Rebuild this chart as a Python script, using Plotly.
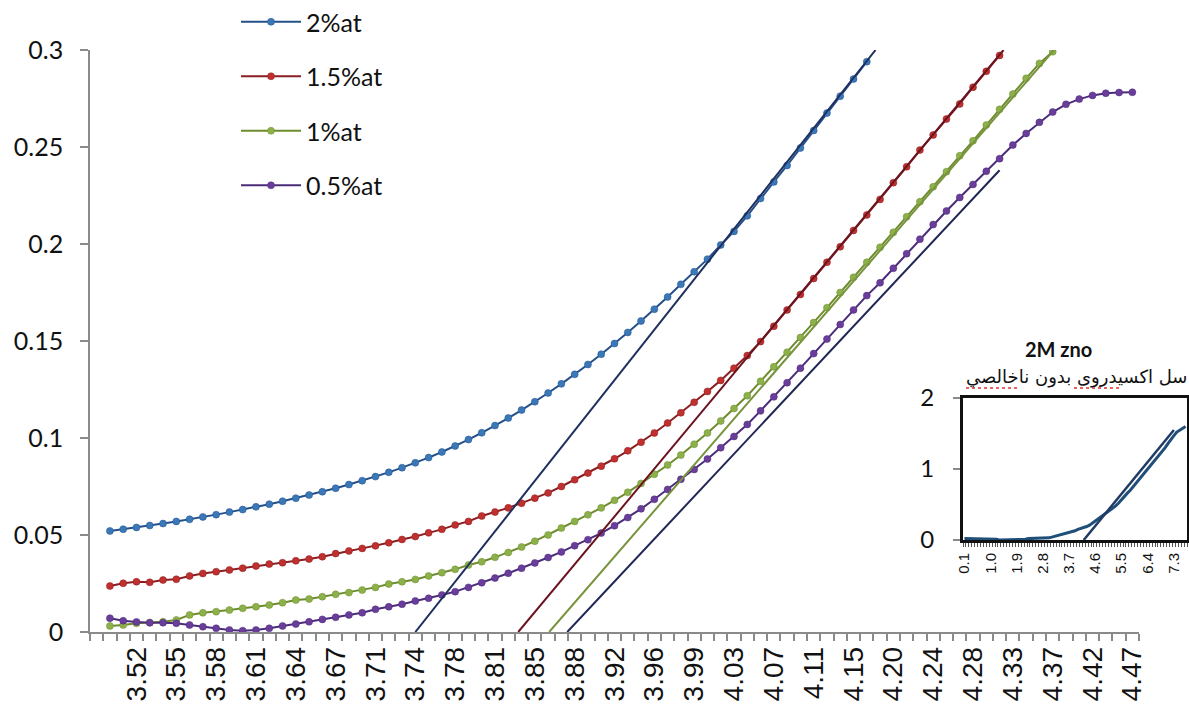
import plotly.graph_objects as go

# Photon energy (eV) labels shown on the category axis, one every third point
energy_labels = ['3.52', '3.55', '3.58', '3.61', '3.64', '3.67', '3.71', '3.74', '3.78',
                 '3.81', '3.85', '3.88', '3.92', '3.96', '3.99', '4.03', '4.07', '4.11',
                 '4.15', '4.20', '4.24', '4.28', '4.33', '4.37', '4.42', '4.47']
first_label_pos = 2
label_step = 3

# Absorption-type curves for each doping level (one value per energy step)
at_2 = [0.0521, 0.0530, 0.0539, 0.0549, 0.0559, 0.0570, 0.0581, 0.0593, 0.0605, 0.0618,
        0.0631, 0.0645, 0.0659, 0.0674, 0.0690, 0.0706, 0.0723, 0.0741, 0.0760, 0.0780,
        0.0801, 0.0823, 0.0847, 0.0872, 0.0899, 0.0928, 0.0959, 0.0992, 0.1027, 0.1064,
        0.1103, 0.1144, 0.1187, 0.1232, 0.1279, 0.1328, 0.1379, 0.1432, 0.1487, 0.1544,
        0.1603, 0.1664, 0.1727, 0.1792, 0.1857, 0.1922, 0.1995, 0.2065, 0.2145, 0.2235,
        0.2320, 0.2405, 0.2495, 0.2585, 0.2675, 0.2762, 0.2850, 0.2940]

at_1_5 = [0.0237, 0.0251, 0.0259, 0.0256, 0.0268, 0.0272, 0.0289, 0.0302, 0.0311, 0.0320,
          0.0329, 0.0340, 0.0350, 0.0357, 0.0367, 0.0376, 0.0388, 0.0404, 0.0418, 0.0431,
          0.0444, 0.0460, 0.0477, 0.0492, 0.0511, 0.0529, 0.0552, 0.0570, 0.0598, 0.0618,
          0.0640, 0.0664, 0.0690, 0.0717, 0.0750, 0.0785, 0.0819, 0.0855, 0.0893, 0.0934,
          0.0978, 0.1026, 0.1077, 0.1130, 0.1184, 0.1240, 0.1297, 0.1360, 0.1425, 0.1497,
          0.1576, 0.1660, 0.1740, 0.1822, 0.1906, 0.1986, 0.2070, 0.2150, 0.2230, 0.2316,
          0.2398, 0.2484, 0.2562, 0.2644, 0.2722, 0.2808, 0.2890, 0.2972]

at_1 = [0.0031, 0.0036, 0.0045, 0.0048, 0.0053, 0.0062, 0.0088, 0.0099, 0.0105, 0.0113,
        0.0122, 0.0130, 0.0139, 0.0151, 0.0165, 0.0170, 0.0182, 0.0194, 0.0203, 0.0216,
        0.0230, 0.0247, 0.0259, 0.0271, 0.0289, 0.0306, 0.0323, 0.0345, 0.0362, 0.0385,
        0.0410, 0.0438, 0.0468, 0.0500, 0.0536, 0.0570, 0.0604, 0.0640, 0.0679, 0.0720,
        0.0766, 0.0813, 0.0861, 0.0912, 0.0968, 0.1026, 0.1088, 0.1152, 0.1218, 0.1292,
        0.1367, 0.1442, 0.1518, 0.1595, 0.1672, 0.1750, 0.1828, 0.1906, 0.1983, 0.2060,
        0.2141, 0.2218, 0.2295, 0.2373, 0.2455, 0.2532, 0.2613, 0.2694, 0.2773, 0.2854,
        0.2931, 0.2991]

at_0_5 = [0.0071, 0.0058, 0.0052, 0.0048, 0.0048, 0.0045, 0.0036, 0.0027, 0.0019, 0.0010,
          0.0007, 0.0010, 0.0019, 0.0031, 0.0041, 0.0053, 0.0065, 0.0076, 0.0088, 0.0099,
          0.0117, 0.0130, 0.0143, 0.0160, 0.0174, 0.0191, 0.0208, 0.0230, 0.0254, 0.0278,
          0.0303, 0.0329, 0.0356, 0.0384, 0.0413, 0.0445, 0.0476, 0.0510, 0.0548, 0.0590,
          0.0635, 0.0684, 0.0735, 0.0787, 0.0838, 0.0892, 0.0950, 0.1008, 0.1070, 0.1140,
          0.1212, 0.1285, 0.1360, 0.1435, 0.1510, 0.1585, 0.1660, 0.1734, 0.1800, 0.1875,
          0.1950, 0.2025, 0.2100, 0.2170, 0.2240, 0.2307, 0.2375, 0.2440, 0.2510, 0.2570,
          0.2627, 0.2680, 0.2720, 0.2747, 0.2766, 0.2777, 0.2781, 0.2782]

# Linear extrapolations (Tauc-style): x-intercept position, end position, end value
fit_start = {'2%at': 23.0, '1.5%at': 30.75, '1%at': 33.08, '0.5%at': 34.44}
fit_end = {'2%at': 57.66, '1.5%at': 67.3, '1%at': 71.1, '0.5%at': 67.0}
fit_end_val = {'2%at': 0.3, '1.5%at': 0.3, '1%at': 0.3, '0.5%at': 0.238}

# Inset: undoped 2M ZnO
inset_x = [round(0.1 * k, 1) for k in range(1, 78)]
inset_y = [0.02, 0.02, 0.02, 0.02, 0.01, 0.01, 0.01, 0.01, 0.01, 0.01,
           0.01, 0.01, 0.00, 0.00, 0.01, 0.01, 0.01, 0.01, 0.01, 0.01,
           0.01, 0.01, 0.02, 0.02, 0.02, 0.02, 0.02, 0.03, 0.03, 0.03,
           0.04, 0.05, 0.06, 0.07, 0.08, 0.09, 0.10, 0.11, 0.13, 0.15,
           0.16, 0.18, 0.19, 0.21, 0.24, 0.26, 0.29, 0.32, 0.35, 0.38,
           0.41, 0.44, 0.48, 0.52, 0.57, 0.61, 0.66, 0.70, 0.75, 0.79,
           0.84, 0.89, 0.94, 0.99, 1.04, 1.10, 1.15, 1.20, 1.25, 1.30,
           1.36, 1.42, 1.47, 1.52, 1.55, 1.58, 1.60]
inset_fit_x = [4.2, 7.3]
inset_fit_y = [0.0, 1.55]
inset_x_labels = ['0.1', '1.0', '1.9', '2.8', '3.7', '4.6', '5.5', '6.4', '7.3']

series = [
    ('2%at', at_2, '#24508a', '#3a78b8', '#1f2f5f'),
    ('1.5%at', at_1_5, '#8b1e22', '#c0302e', '#6b1420'),
    ('1%at', at_1, '#6e8c2e', '#8db14a', '#77933c'),
    ('0.5%at', at_0_5, '#4b2c7a', '#6a3d9a', '#1f2555'),
]

fig = go.Figure()

for name, vals, lcol, mcol, fcol in series:
    fig.add_trace(go.Scatter(
        x=list(range(len(vals))), y=vals, name=name, mode='lines+markers',
        line=dict(color=lcol, width=2), legendgroup=name,
        marker=dict(color=mcol, size=7, line=dict(color=lcol, width=0.5)),
        xaxis='x', yaxis='y'))

for name, vals, lcol, mcol, fcol in series:
    fig.add_trace(go.Scatter(
        x=[fit_start[name], fit_end[name]], y=[0, fit_end_val[name]],
        mode='lines', line=dict(color=fcol, width=2), showlegend=False,
        hoverinfo='skip', xaxis='x', yaxis='y'))

fig.add_trace(go.Scatter(x=inset_x, y=inset_y, mode='lines', showlegend=False,
                         line=dict(color='#1f4e79', width=3), xaxis='x2', yaxis='y2'))
fig.add_trace(go.Scatter(x=inset_fit_x, y=inset_fit_y, mode='lines', showlegend=False,
                         line=dict(color='#1f3b66', width=2.5), xaxis='x2', yaxis='y2'))

W, H = 1189, 711
ml, mr, mt, mb = 90, 0, 50, 79
pw = W - ml - mr
ph = H - mt - mb


def px_x(p):
    return (p - ml) / pw


def px_y(p):
    return (H - mb - p) / ph


axis_grey = '#8a8a8a'
n_points = len(at_0_5)

# Spell-check style wavy underlines beneath two words of the inset subtitle
underline_spans = [(966, 1018), (1074, 1120)]
shapes = [dict(type='line', xref='paper', yref='paper',
               x0=px_x(a), x1=px_x(b), y0=px_y(388), y1=px_y(388),
               line=dict(color='#e03030', width=1.5, dash='dot'))
          for a, b in underline_spans]

fig.update_layout(
    width=W, height=H, autosize=False,
    margin=dict(l=ml, r=mr, t=mt, b=mb, pad=0, autoexpand=False),
    paper_bgcolor='white', plot_bgcolor='rgba(0,0,0,0)',
    showlegend=True,
    legend=dict(x=px_x(236), y=px_y(-1), xanchor='left', yanchor='top',
                font=dict(family='Lato, Open Sans, sans-serif', size=25, color='#111111'),
                tracegroupgap=19, itemwidth=60, bgcolor='rgba(0,0,0,0)'),
    xaxis=dict(domain=[0, px_x(1139)], range=[-1.5, n_points - 0.5], automargin=False,
               tickmode='array',
               tickvals=[first_label_pos + label_step * k for k in range(len(energy_labels))],
               ticktext=energy_labels, tickangle=-90, ticks='',
               tickfont=dict(family='Liberation Sans, Arial, sans-serif', size=28, color='#111111'),
               ticklabelstandoff=2,
               showline=True, linecolor=axis_grey, linewidth=1.5,
               showgrid=False, zeroline=False,
               minor=dict(ticks='outside', ticklen=7, tickwidth=1.5, tickcolor=axis_grey,
                          tick0=-0.5, dtick=1, showgrid=False)),
    yaxis=dict(domain=[0, 1], range=[0, 0.3], tickmode='linear', tick0=0, dtick=0.05,
               automargin=False,
               ticks='outside', ticklen=8, tickwidth=1.5, tickcolor=axis_grey,
               tickfont=dict(family='Lato, Open Sans, sans-serif', size=25, color='#111111'),
               ticklabelstandoff=12,
               showline=True, linecolor=axis_grey, linewidth=1.5,
               showgrid=False, zeroline=False),
    xaxis2=dict(domain=[px_x(963), px_x(1187)], anchor='y2', range=[0.05, 7.75],
                automargin=False,
                tickmode='array', tickvals=[float(v) for v in inset_x_labels],
                ticktext=inset_x_labels, tickangle=-90, ticks='',
                tickfont=dict(family='Liberation Sans, Arial, sans-serif', size=15, color='#111111'),
                ticklabelstandoff=4,
                showline=True, mirror=True, linecolor='#111111', linewidth=3,
                showgrid=False, zeroline=False,
                minor=dict(ticks='outside', ticklen=4, tickwidth=1, tickcolor='#555555',
                           tick0=0.05, dtick=0.1, showgrid=False)),
    yaxis2=dict(domain=[px_y(540), px_y(398)], anchor='x2', range=[0, 2],
                automargin=False,
                tickmode='linear', tick0=0, dtick=1,
                ticks='outside', ticklen=7, tickwidth=1.5, tickcolor=axis_grey,
                tickfont=dict(family='Lato, Open Sans, sans-serif', size=24, color='#111111'),
                ticklabelstandoff=14,
                showline=True, mirror=True, linecolor='#111111', linewidth=3,
                showgrid=False, zeroline=False),
    shapes=shapes,
    annotations=[
        dict(x=px_x(1058), y=px_y(349), xref='paper', yref='paper', showarrow=False,
             text='<b>2M zno</b>', xanchor='center', yanchor='middle',
             font=dict(family='Lato, Open Sans, sans-serif', size=20, color='#111111')),
        dict(x=px_x(1076), y=px_y(377), xref='paper', yref='paper', showarrow=False,
             text='سل اکسیدروی بدون ناخالصي', xanchor='center', yanchor='middle',
             font=dict(family='DejaVu Sans, Noto Sans, sans-serif', size=18, color='#111111')),
    ],
)

fig.write_html('out.html')
